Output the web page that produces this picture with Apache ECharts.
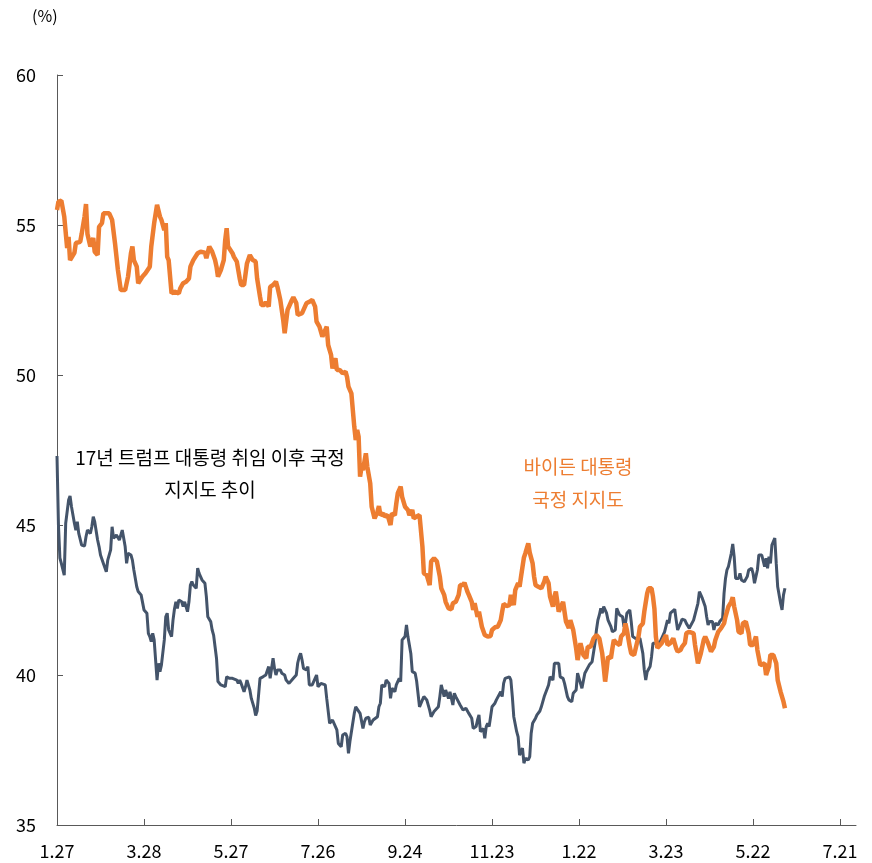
<!DOCTYPE html>
<html>
<head>
<meta charset="utf-8">
<script src="https://cdn.jsdelivr.net/npm/echarts@6/dist/echarts.min.js"></script>
<style>
  html, body { margin: 0; padding: 0; background: #fff; }
  #chart { width: 872px; height: 863px; }
</style>
</head>
<body>
<div id="chart"></div>
<script>
// x = days since inauguration; tick every 60 days
const tickDays = [0, 60, 120, 180, 240, 300, 360, 420, 480, 540];
const tickLabels = ['1.27', '3.28', '5.27', '7.26', '9.24', '11.23', '1.22', '3.23', '5.22', '7.21'];

// Biden approval (%), [day, value]
const bidenApproval = [
  [0,55.5],[1,55.78],[3,55.81],[4,55.75],[5,55.28],[6,55.33],[7,54.23],[8,54.6],[9,53.83],[10,53.8],
  [12,54.07],[13,54.4],[16,54.44],[17,54.7],[19,55.28],[20,55.7],[21,54.7],[23,54.28],[24,54.28],[25,54.57],
  [26,54.11],[28,54.0],[29,54.94],[31,55.06],[32,55.39],[36,55.39],[38,55.17],[40,54.39],[42,53.5],[44,52.83],
  [47,52.83],[49,53.28],[51,54.06],[52,54.28],[53,53.83],[55,53.61],[56,53.06],[57,53.0],[59,53.28],[61,53.39],
  [64,53.61],[65,54.28],[67,55.06],[69,55.67],[71,55.28],[72,55.17],[74,54.83],[75,55.06],[76,53.94],[77,53.83],
  [79,52.72],[81,52.78],[84,52.72],[85,52.89],[87,53.06],[89,53.11],[91,53.22],[92,53.61],[94,53.83],[97,54.06],
  [99,54.11],[102,54.08],[103,53.89],[105,54.28],[107,54.11],[109,53.83],[110,53.61],[111,53.28],[113,53.5],[115,53.83],
  [116,54.5],[117,54.89],[118,54.28],[121,54.06],[122,53.94],[124,53.78],[126,53.22],[127,53.0],[129,53.0],[131,53.72],
  [133,54.0],[135,53.83],[137,53.78],[138,53.22],[140,52.61],[141,52.33],[143,52.33],[144,52.44],[146,52.28],[147,52.94],
  [149,53.0],[151,53.11],[152,52.94],[154,52.5],[156,51.83],[157,51.39],[159,52.17],[162,52.5],[163,52.59],[165,52.4],
  [166,52.0],[169,52.06],[172,52.39],[174,52.44],[176,52.5],[178,52.28],[179,51.78],[181,51.61],[183,51.28],[184,51.28],
  [186,51.61],[187,51.0],[189,50.67],[190,50.22],[192,50.56],[193,50.17],[195,50.17],[197,50.06],[199,50.11],[200,49.94],
  [201,49.61],[202,49.56],[203,49.39],[205,48.28],[206,47.83],[207,48.17],[208,47.94],[209,46.61],[210,46.94],[211,46.83],
  [213,47.39],[214,46.94],[216,46.39],[217,45.61],[219,45.22],[221,45.44],[222,45.63],[223,45.33],[225,45.39],[226,45.28],
  [228,45.33],[230,45.0],[231,45.39],[233,45.33],[234,45.72],[235,46.06],[237,46.28],[238,45.94],[240,45.61],[242,45.5],
  [243,45.33],[245,45.5],[246,45.22],[248,45.28],[250,45.33],[251,45.28],[252,44.28],[253,43.39],[255,43.33],[257,43.0],
  [258,43.78],[260,43.89],[262,43.78],[264,43.28],[265,42.89],[267,42.67],[268,42.44],[270,42.22],[272,42.19],[273,42.39],
  [275,42.44],[277,42.67],[278,43.0],[280,43.0],[281,43.08],[283,42.78],[284,42.67],[286,42.44],[287,42.17],[288,42.39],
  [290,41.94],[291,42.11],[292,42.06],[293,41.61],[295,41.33],[297,41.28],[299,41.3],[300,41.5],[302,41.59],[304,41.61],
  [306,41.83],[307,42.11],[308,42.37],[310,42.3],[312,42.33],[313,42.67],[315,42.33],[316,42.83],[318,43.06],[319,42.94],
  [320,43.28],[322,43.92],[323,44.06],[325,44.39],[326,44.08],[328,43.72],[329,43.28],[330,43.0],[332,42.94],[334,42.89],
  [336,43.11],[337,43.28],[339,43.06],[340,42.61],[342,42.28],[343,42.61],[344,42.78],[346,42.11],[347,42.11],[349,42.44],
  [350,42.39],[351,41.78],[353,41.56],[354,41.83],[356,41.5],[358,40.89],[359,40.5],[361,41.06],[363,40.67],[365,40.56],
  [366,40.94],[368,40.94],[370,41.22],[372,41.33],[374,41.22],[375,41.17],[376,40.72],[377,40.28],[378,39.78],[379,40.17],
  [380,40.61],[382,40.56],[383,40.89],[384,41.17],[386,41.06],[388,41.0],[389,41.28],[391,41.39],[392,41.72],[393,41.5],
  [395,40.94],[396,40.72],[398,40.67],[399,40.61],[401,41.28],[402,41.61],[404,41.72],[405,42.11],[407,42.72],[408,42.89],
  [410,42.89],[411,42.61],[412,42.2],[413,41.28],[414,40.9],[417,41.06],[420,41.33],[421,41.0],[423,41.06],[425,41.22],
  [427,40.89],[428,40.78],[430,40.83],[431,40.94],[433,41.06],[434,41.39],[436,41.44],[437,41.39],[439,41.39],[440,41.0],
  [442,40.39],[444,40.72],[446,41.17],[447,41.28],[449,41.06],[451,40.78],[453,40.94],[454,41.17],[456,41.44],[458,41.56],
  [460,41.72],[461,41.94],[463,42.28],[465,42.44],[466,42.59],[467,42.28],[469,41.83],[470,41.44],[472,41.39],[473,41.72],
  [475,41.78],[477,41.39],[478,41.0],[480,41.0],[482,41.28],[483,40.83],[485,40.33],[486,40.33],[488,40.39],[489,40.0],
  [491,40.28],[492,40.67],[494,40.67],[496,40.39],[497,39.83],[499,39.44],[500,39.39],[501,39.11],[502,38.89]
];

// Trump approval in 2017 (%), [day, value]
const trumpApproval = [
  [0,47.3],[1,45.0],[2,43.9],[3,43.72],[5,43.33],[6,45.06],[8,45.83],[9,45.97],[10,45.61],[12,45.06],
  [13,44.83],[14,45.11],[15,44.72],[17,44.33],[19,44.3],[20,44.61],[21,44.83],[23,44.72],[24,44.94],[25,45.28],
  [26,45.11],[28,44.5],[29,44.28],[30,44.0],[32,43.72],[34,43.44],[35,43.83],[37,44.17],[38,44.94],[39,44.56],
  [41,44.67],[43,44.5],[44,44.56],[45,44.83],[47,44.28],[48,43.72],[49,44.06],[51,44.0],[52,43.83],[53,43.5],
  [55,42.94],[56,42.78],[58,42.67],[59,42.61],[60,42.17],[62,42.06],[63,41.39],[64,41.28],[65,41.11],[66,41.39],
  [67,41.17],[68,40.5],[69,39.83],[70,40.39],[71,40.11],[72,40.33],[73,40.39],[74,41.17],[75,41.94],[76,42.06],
  [77,41.5],[79,41.28],[80,41.83],[81,42.2],[82,42.44],[83,42.22],[84,42.5],[86,42.44],[87,42.28],[88,42.44],
  [90,42.11],[91,42.44],[92,43.0],[93,43.11],[94,43.0],[96,42.89],[97,43.56],[98,43.39],[100,43.17],[102,43.06],
  [103,42.61],[104,41.94],[106,41.78],[107,41.5],[108,41.33],[109,40.94],[110,40.56],[111,39.78],[113,39.67],[114,39.61],
  [116,39.61],[117,39.94],[119,39.89],[121,39.89],[122,39.94],[124,39.83],[125,39.72],[126,39.83],[127,39.72],[128,39.78],
  [129,39.44],[130,39.61],[131,39.83],[133,39.5],[134,39.22],[136,38.9],[137,38.65],[138,38.8],[139,39.33],[140,39.89],
  [142,39.94],[144,40.0],[145,40.0],[146,40.28],[147,39.89],[149,40.56],[150,40.22],[151,40.0],[152,40.17],[153,40.11],
  [154,40.17],[155,40.06],[157,40.0],[158,39.83],[160,39.72],[161,39.78],[163,39.89],[165,40.0],[166,40.4],[167,40.6],
  [168,40.72],[169,40.5],[170,40.22],[172,40.17],[173,40.28],[174,39.67],[176,39.67],[178,39.89],[179,40.0],[180,39.61],
  [182,39.72],[183,39.7],[185,39.67],[186,39.22],[187,39.17],[188,38.39],[190,38.5],[191,38.56],[193,38.17],[194,37.72],
  [196,37.61],[197,38.0],[199,38.06],[200,37.94],[201,37.39],[202,37.78],[203,37.83],[205,38.72],[206,38.94],[207,38.94],
  [209,38.72],[210,38.78],[211,38.22],[212,38.44],[213,38.56],[215,38.59],[216,38.33],[218,38.5],[219,38.5],[221,38.61],
  [222,38.94],[223,39.06],[224,39.67],[226,39.61],[227,39.83],[228,39.89],[229,39.72],[230,39.22],[231,39.56],[233,39.44],
  [234,39.67],[235,39.67],[236,39.89],[237,39.78],[238,41.17],[240,41.28],[241,41.67],[242,41.28],[244,40.72],[245,40.11],
  [247,40.06],[248,39.8],[250,38.94],[252,39.17],[253,39.28],[255,39.17],[257,38.83],[258,38.61],[260,38.78],[261,38.78],
  [263,38.94],[264,39.28],[265,39.67],[267,39.28],[268,39.5],[269,39.44],[270,39.22],[271,39.44],[272,39.39],[273,39.0],
  [274,39.39],[275,39.28],[276,39.28],[278,39.0],[279,39.06],[280,38.83],[282,38.89],[284,38.72],[285,38.78],[286,38.56],
  [287,38.22],[289,38.28],[290,38.5],[291,38.67],[292,38.11],[294,38.22],[295,37.89],[296,38.28],[297,38.39],[298,38.28],
  [299,38.61],[300,38.94],[302,39.06],[303,39.17],[304,39.11],[306,39.44],[307,39.28],[308,39.72],[309,39.89],[310,39.94],
  [312,39.94],[313,39.83],[314,39.28],[315,38.61],[317,38.11],[318,37.94],[319,37.33],[320,37.28],[321,37.56],[322,37.06],
  [323,37.22],[325,37.17],[326,37.28],[327,38.06],[328,38.39],[330,38.56],[331,38.67],[333,38.8],[334,38.94],[336,39.28],
  [337,39.3],[339,39.67],[340,39.94],[342,39.83],[343,40.39],[344,40.44],[346,40.39],[347,39.94],[349,39.89],[350,39.72],
  [352,39.28],[353,39.17],[355,39.11],[356,39.39],[358,39.5],[359,40.06],[360,40.11],[361,39.72],[362,39.56],[364,40.06],
  [365,40.06],[367,40.33],[368,40.33],[369,40.44],[371,41.06],[372,41.5],[373,41.83],[374,42.0],[375,42.22],[376,42.06],
  [377,42.28],[379,42.06],[380,41.83],[382,41.61],[383,41.44],[385,41.5],[386,42.22],[388,42.0],[389,42.06],[390,41.94],
  [391,41.61],[392,41.72],[393,42.06],[395,42.17],[396,41.78],[397,41.28],[399,41.22],[400,41.17],[402,41.22],[404,40.72],
  [405,40.17],[406,39.83],[407,40.11],[409,40.28],[410,40.61],[411,41.06],[413,41.06],[414,41.0],[416,41.11],[418,41.33],
  [419,41.44],[421,41.83],[422,41.72],[423,42.06],[424,42.11],[426,42.19],[427,41.83],[428,41.5],[430,41.72],[431,41.86],
  [433,41.83],[434,41.72],[436,41.56],[437,41.5],[439,41.83],[440,41.89],[442,42.39],[443,42.78],[445,42.56],[447,42.28],
  [448,41.94],[449,41.67],[450,41.78],[452,41.78],[453,41.5],[454,41.72],[456,41.67],[457,41.78],[459,41.89],[460,42.72],
  [461,43.22],[462,43.5],[463,43.61],[465,44.06],[466,44.37],[467,43.94],[468,43.22],[470,43.22],[471,43.39],[472,43.17],
  [474,43.11],[476,43.28],[477,43.5],[479,43.56],[480,43.39],[481,43.06],[483,43.5],[484,44.0],[486,44.0],[487,44.0],
  [488,43.61],[489,43.89],[490,43.56],[491,43.94],[492,43.72],[493,44.33],[494,44.39],[495,44.56],[496,43.72],[497,42.94],
  [499,42.39],[500,42.17],[501,42.67],[502,42.89]
];

const chart = echarts.init(document.getElementById('chart'), null, { renderer: 'canvas' });

const axisGray = '#595959';
const txtFont = '"Noto Sans CJK KR", "Noto Sans", sans-serif';
const noteSize = 19;

chart.setOption({
  animation: false,
  backgroundColor: '#ffffff',
  grid: { left: 57, right: 16, top: 75, bottom: 38, containLabel: false },
  xAxis: {
    type: 'value',
    min: 0,
    max: 551,
    splitLine: { show: false },
    axisLine: { lineStyle: { color: axisGray, width: 1 } },
    axisTick: { inside: true, length: 6, customValues: tickDays, lineStyle: { color: axisGray } },
    axisLabel: {
      customValues: tickDays,
      margin: 17,
      fontSize: 18,
      color: '#000',
      fontFamily: txtFont,
      formatter: v => tickLabels[tickDays.indexOf(v)] || ''
    }
  },
  yAxis: {
    type: 'value',
    min: 35,
    max: 60,
    interval: 5,
    splitLine: { show: false },
    axisLine: { show: true, lineStyle: { color: axisGray, width: 1 } },
    axisTick: { show: true, inside: true, length: 6, lineStyle: { color: axisGray } },
    axisLabel: { margin: 21, fontSize: 18, color: '#000', fontFamily: txtFont }
  },
  series: [
    {
      name: '17년 트럼프 대통령 취임 이후 국정 지지도 추이',
      type: 'line',
      data: trumpApproval,
      showSymbol: false,
      lineStyle: { color: '#44546A', width: 3 },
      itemStyle: { color: '#44546A' },
      z: 2
    },
    {
      name: '바이든 대통령 국정 지지도',
      type: 'line',
      data: bidenApproval,
      showSymbol: false,
      lineStyle: { color: '#ED7D31', width: 4.5 },
      itemStyle: { color: '#ED7D31' },
      z: 3
    }
  ],
  graphic: [
    { type: 'text', left: 32, top: 8, style: { text: '(%)', fontSize: 16, fill: '#000', fontFamily: txtFont } },
    { type: 'text', x: 210, y: 458, style: { text: '17년 트럼프 대통령 취임 이후 국정', fontSize: noteSize, fill: '#000', fontFamily: txtFont, align: 'center', verticalAlign: 'middle' } },
    { type: 'text', x: 210, y: 490, style: { text: '지지도 추이', fontSize: noteSize, fill: '#000', fontFamily: txtFont, align: 'center', verticalAlign: 'middle' } },
    { type: 'text', x: 578, y: 467, style: { text: '바이든 대통령', fontSize: noteSize, fill: '#ED7D31', fontFamily: txtFont, align: 'center', verticalAlign: 'middle' } },
    { type: 'text', x: 578, y: 500, style: { text: '국정 지지도', fontSize: noteSize, fill: '#ED7D31', fontFamily: txtFont, align: 'center', verticalAlign: 'middle' } }
  ]
});
</script>
</body>
</html>
